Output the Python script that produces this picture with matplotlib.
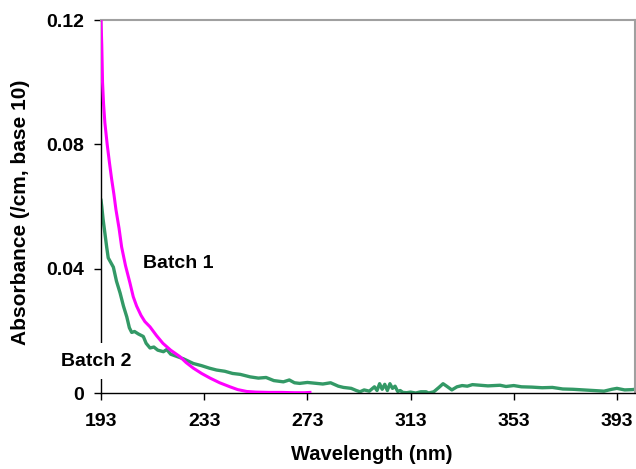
import matplotlib.pyplot as plt

plt.rcParams['font.family'] = ['Liberation Sans', 'DejaVu Sans']
plt.rcParams['font.weight'] = 'bold'

# Batch 1 (magenta)
wl1 = [193.0, 193.3, 193.6, 194.0, 194.5, 195.4, 196.3, 197.1, 198.0, 198.8,
       200.0, 201.0, 202.5, 204.2, 205.5, 206.8, 208.5, 210.0, 212.0, 214.5,
       217.0, 220.0, 223.6, 226.0, 228.8, 232.0, 235.3, 239.0, 243.0, 246.0,
       249.5, 253.0, 258.0, 263.0, 268.0, 272.0, 274.0]
abs1 = [0.120, 0.112, 0.100, 0.093, 0.087, 0.080, 0.074, 0.069, 0.064, 0.059,
        0.053, 0.047, 0.041, 0.0355, 0.031, 0.028, 0.025, 0.023, 0.0213, 0.0185,
        0.016, 0.0138, 0.0117, 0.0098, 0.0080, 0.0063, 0.0048, 0.0033, 0.0020, 0.0011,
        0.0005, 0.0003, 0.0002, 0.0002, 0.0001, 0.0001, 0.0002]

# Batch 2 (green)
wl2 = [193.0, 193.3, 193.8, 194.5, 195.2, 195.8, 196.8, 197.8, 199.0, 200.4,
       201.7, 203.0, 204.0, 204.9, 206.0, 207.5, 209.4, 210.5, 212.0, 213.5,
       215.0, 217.2, 218.5, 220.0, 222.3, 225.0, 228.8, 232, 235, 237.8,
       241, 244, 247, 250.8, 254, 257, 260, 263.7, 266, 268,
       270, 273, 276.6, 279, 282, 285, 287, 290, 292, 293.4,
       295, 297, 299, 300, 301, 302, 303, 304, 305, 306,
       307, 308, 309, 310, 311.5, 313, 315, 317, 319, 320,
       322, 324, 325.6, 327, 329, 331, 333, 335, 337, 340,
       343, 347.7, 350, 353, 356, 360, 364, 368, 372, 376,
       380, 384, 388, 391, 393, 396, 399, 400]
abs2 = [0.062, 0.060, 0.056, 0.0515, 0.047, 0.0435, 0.042, 0.0405, 0.036, 0.0322,
        0.028, 0.0245, 0.021, 0.0195, 0.0198, 0.019, 0.0182, 0.016, 0.0145, 0.0148,
        0.0138, 0.0133, 0.0140, 0.0125, 0.0118, 0.0110, 0.0095, 0.0088, 0.0080, 0.0074,
        0.0070, 0.0063, 0.0060, 0.0052, 0.0048, 0.0050, 0.0040, 0.0036, 0.0042, 0.0033,
        0.0031, 0.0034, 0.0031, 0.0029, 0.0033, 0.0022, 0.0018, 0.0015, 0.0008, 0.0004,
        0.0010, 0.0006, 0.0020, 0.0008, 0.0030, 0.0012, 0.0028, 0.0008, 0.0030, 0.0015,
        0.0022, 0.0005, 0.0008, 0.0002, 0.0001, 0.0003, 0.0000, 0.0004, 0.0004, 0.0000,
        0.0004, 0.0018, 0.0030, 0.0022, 0.0010, 0.0020, 0.0024, 0.0022, 0.0027, 0.0025,
        0.0023, 0.0025, 0.0021, 0.0024, 0.0020, 0.0019, 0.0017, 0.0018, 0.0013, 0.0012,
        0.0010, 0.0008, 0.0006, 0.0012, 0.0015, 0.0010, 0.0011, 0.0012]

xticks = [193, 233, 273, 313, 353, 393]
yticks = [0, 0.04, 0.08, 0.12]
ytick_labels = ['0', '0.04', '0.08', '0.12']

fig = plt.figure(figsize=(6.36, 4.69), dpi=100)
ax = fig.add_axes([0.1588, 0.162, 0.8396, 0.795])

ax.plot(wl2, abs2, color='#339966', lw=2.4, zorder=2)
ax.plot(wl1, abs1, color='#FF00FF', lw=2.2, zorder=3)

ax.set_xlim(193, 400)
ax.set_ylim(0, 0.12)
ax.set_xticks(xticks)
ax.set_yticks(yticks)
ax.set_yticklabels(ytick_labels)
ax.tick_params(direction='out', length=5, width=1, labelsize=14)
ax.tick_params(axis='x', pad=9.5)
ax.tick_params(axis='y', pad=7.5)

for side in ['top', 'right']:
    ax.spines[side].set_color('#a0a0a0')
    ax.spines[side].set_linewidth(1.5)
for side in ['left', 'bottom']:
    ax.spines[side].set_color('black')
    ax.spines[side].set_linewidth(1)

ax.set_xlabel('Wavelength (nm)', fontsize=14.5, fontweight='bold')
ax.set_ylabel('Absorbance (/cm, base 10)', fontsize=15, fontweight='bold')
ax.xaxis.set_label_coords(0.507, -0.14)
ax.yaxis.set_label_coords(-0.133, 0.485)

ax.text(222.8, 0.0418, 'Batch 1', fontsize=14, fontweight='bold', ha='center', va='center')
ax.text(191.1, 0.0103, 'Batch 2', fontsize=14, fontweight='bold', ha='center', va='center',
        bbox=dict(facecolor='white', edgecolor='none', pad=7), clip_on=False, zorder=5)

fig.savefig('out.png', dpi=100)
